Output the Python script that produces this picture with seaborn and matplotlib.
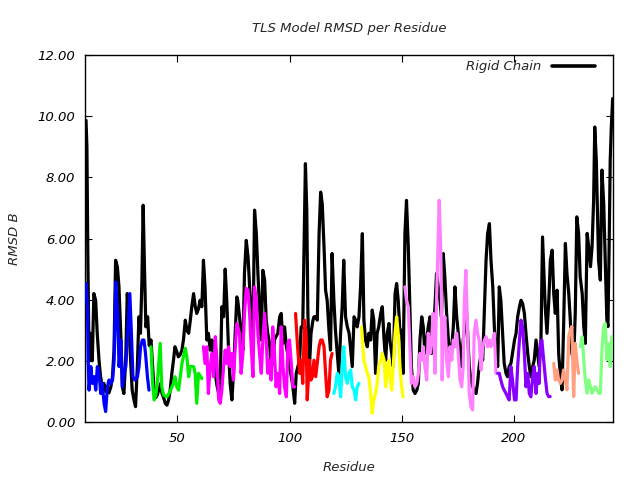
import numpy as np
import pandas as pd
import matplotlib
matplotlib.use("Agg")
import matplotlib.pyplot as plt
from matplotlib.ticker import FormatStrFormatter
import seaborn as sns

# ---------------- data ----------------
rigid_x = [9.2, 9.6, 10.0, 10.4, 10.8, 11.3, 12.0, 12.7, 13.5, 14.2, 15.0, 15.7, 16.4, 17.2, 17.9, 18.7, 19.4,
           20.3, 21.0, 21.7, 22.4, 23.2, 23.9, 24.7, 25.4, 26.1, 26.9, 27.6, 28.3, 29.1, 29.8, 30.6, 31.3, 32.1,
           32.8, 33.5, 34.1, 34.7, 35.3, 35.9, 36.7, 37.4, 38.2, 38.9, 39.6, 40.4, 41.1, 41.8, 42.5,
           43.1, 43.8, 44.6, 45.3, 46.0, 46.7, 47.5, 48.2, 48.9, 49.7, 50.4, 51.2, 52.0, 52.7, 53.5, 54.2, 55.0,
           55.7, 56.4, 57.2, 57.9, 58.6, 59.4, 60.1, 60.9, 61.6, 62.3, 63.1, 63.8, 64.6, 65.4, 66.1, 66.9, 67.6,
           68.4, 69.1, 69.8, 70.6, 71.3, 72.0, 72.8, 73.5, 74.3, 75.0, 75.7, 76.5,
           76.9, 77.7, 78.4, 79.2, 79.9, 80.7, 81.5, 82.2, 82.9, 83.7, 84.4, 85.2, 85.9, 86.6, 87.4, 88.1, 88.9,
           89.6, 90.3, 91.1, 91.8, 92.5, 93.3, 94.0, 94.8, 95.6, 96.3, 97.1, 97.8, 98.6, 99.3, 100.0, 100.8,
           101.5, 102.3, 103.0, 103.7, 104.5, 105.2, 105.9, 106.7, 107.1, 107.7, 108.2, 108.9, 109.6, 110.4,
           110.9, 111.7, 112.4, 113.2, 113.9, 114.6, 115.4, 116.1, 116.8, 117.6, 118.3, 119.0, 119.8, 120.5,
           121.3, 122.0, 122.8, 123.5, 124.2, 125.0, 125.8, 126.6, 127.3, 128.0, 128.8, 129.5, 130.2, 131.0,
           131.7, 132.5, 133.2, 133.9, 134.7, 135.4, 136.2, 136.9, 137.6, 138.4, 139.1, 139.8, 140.7, 141.4,
           142.2, 142.9, 143.6, 144.4,
           144.8, 145.6, 146.3, 147.1, 147.8, 148.5, 149.3, 150.0, 150.7, 151.5, 152.2, 153.0, 153.7, 154.4,
           155.2, 156.0, 156.8, 157.5, 158.2, 159.0, 159.7, 160.4, 161.2, 161.9, 162.7, 163.4, 164.1, 164.9,
           165.6, 166.4, 167.1, 167.8, 168.6, 169.3, 170.1, 170.9, 171.6, 172.4, 173.1, 173.8, 174.6, 175.3,
           176.1, 176.8, 177.5, 178.3,
           178.7, 179.5, 180.2, 181.0, 181.7, 182.4, 183.2, 183.9, 184.6, 185.5, 186.2, 187.0, 187.7, 188.4,
           189.2, 189.9, 190.7, 191.4, 192.1, 192.9, 193.6, 194.3, 195.1, 195.8, 196.6, 197.3, 198.0, 198.8,
           199.5, 200.4, 201.1, 201.8, 202.6, 203.3, 204.0, 204.8, 205.5, 206.3, 207.0, 207.7, 208.5, 209.2,
           210.0, 210.7, 211.4, 212.2, 212.9,
           213.4, 214.1, 214.9, 215.7, 216.4, 217.2, 217.9, 218.6, 219.4, 220.1, 220.9, 221.6, 222.3, 223.1,
           223.8, 224.6, 225.3, 226.0, 226.8, 227.5, 228.2, 229.0, 229.7, 230.6, 231.3, 232.0, 232.8, 233.5,
           234.3, 235.0, 235.7, 236.2, 236.9, 237.5, 237.9, 238.7, 239.4, 240.2, 240.9, 241.6, 242.1, 242.7,
           243.1, 243.6, 244.2]
rigid_y = [9.87, 9.0, 5.5, 3.0, 2.0, 2.9, 2.0, 4.2, 3.98, 2.9, 2.02, 1.48, 1.15, 1.26, 1.0, 1.04, 0.95,
           1.15, 1.48, 2.35, 5.29, 5.07, 4.42, 2.9, 1.15, 0.93, 2.02, 4.2, 3.44, 2.02, 1.04, 0.72, 0.5, 1.81,
           3.44, 2.9, 4.5, 7.09, 5.0, 3.11, 3.44, 2.5, 2.68, 1.81, 1.0, 0.8, 0.9, 1.1, 1.26,
           0.93, 0.8, 0.6, 0.55, 0.7, 1.0, 1.59, 2.0, 2.46, 2.3, 2.13, 2.2, 2.35, 2.7, 3.33, 3.0, 2.9,
           3.3, 3.77, 4.2, 3.8, 3.55, 3.7, 3.98, 3.77, 5.29, 4.42, 2.68, 2.9, 2.35, 2.68, 2.1, 1.59, 1.2,
           0.93, 1.26, 3.77, 3.44, 5.0, 3.98, 2.35, 1.26, 0.72, 1.59, 2.8, 4.09,
           3.98, 3.44, 2.9, 2.35, 4.86, 5.94, 5.4, 4.42, 3.55, 2.68, 6.93, 6.16, 4.86, 3.77, 2.68, 4.96, 4.64,
           3.33, 2.9, 2.57, 1.81, 1.91, 2.68, 2.8, 2.9, 3.44, 3.55, 2.57, 3.11, 2.46, 2.2, 1.81, 1.48,
           1.15, 0.61, 1.59, 1.8, 2.02, 3.11, 3.11, 6.6, 8.45, 6.93, 3.55, 1.81, 2.9, 3.3,
           3.44, 3.44, 3.33, 6.16, 7.52, 7.14, 5.73, 4.31, 3.98, 3.0, 2.35, 5.51, 3.98, 3.0,
           2.24, 1.59, 2.9, 3.77, 5.29, 3.44, 3.11, 2.9, 2.35, 1.81, 3.44, 3.33, 3.11, 3.44,
           4.42, 6.16, 3.33, 2.68, 2.46, 2.9, 2.68, 3.66, 3.33, 1.59, 2.9, 3.11, 3.55, 3.77,
           2.68, 2.02, 2.9, 3.22,
           2.68, 2.24, 1.81, 4.2, 4.53, 3.98, 2.9, 3.0, 1.59, 6.16, 7.25, 5.73, 3.77, 1.81,
           1.04, 0.93, 1.04, 1.26, 2.68, 3.44, 3.11, 2.24, 2.68, 3.11, 3.44, 2.24, 2.9, 3.77,
           4.86, 4.42, 3.98, 3.44, 5.51, 4.75, 3.55, 2.68, 2.02, 2.46, 3.11, 4.42, 3.44, 2.9,
           2.35, 1.81, 2.68, 3.11,
           3.98, 2.9, 1.81, 1.37, 1.15, 1.04, 0.93, 1.26, 1.81, 2.24, 2.02, 3.77, 5.29, 6.16,
           6.49, 5.29, 4.42, 3.11, 2.24, 1.81, 4.42, 3.98, 2.9, 1.91, 1.59, 1.48, 1.81, 1.91,
           2.24, 2.68, 2.9, 3.44, 3.77, 3.98, 3.88, 3.55, 2.9, 2.24, 1.81, 1.48, 1.81, 2.02,
           2.68, 2.24, 1.81, 2.68, 6.05,
           5.08, 3.77, 2.9, 3.99, 5.29, 5.62, 4.2, 3.55, 4.31, 2.24, 1.48, 1.05, 3.12, 5.84,
           4.86, 4.2, 3.33, 2.24, 2.03, 3.55, 6.71, 6.17, 4.75, 4.2, 3.12, 2.57, 6.17, 5.73,
           5.08, 5.73, 7.25, 9.65, 8.56, 6.6, 5.29, 4.64, 8.24, 7.15, 5.29, 3.33, 3.12, 6.17,
           8.56, 9.65, 10.58]

blue_x = [9.0, 9.2, 9.85, 10.15, 10.55, 11.35, 12.05, 12.85, 13.55, 14.25, 15.05, 15.75, 16.45, 17.25, 17.95,
          18.75, 19.45, 20.25, 21.05, 21.75, 22.45, 23.25, 23.95, 24.75, 25.45, 26.15, 26.95, 27.65, 28.75,
          29.45, 30.15, 30.95, 32.15, 32.85, 33.55, 34.35, 35.05, 35.75, 36.6, 37.3]
blue_y = [4.0, 4.53, 3.77, 2.02, 1.04, 1.81, 1.26, 1.48, 1.04, 1.81, 1.59, 0.93, 1.26, 0.61, 0.34,
          1.15, 1.37, 1.26, 1.37, 2.02, 4.58, 3.55, 1.81, 2.68, 1.15, 1.59, 1.81, 2.68, 4.2,
          2.9, 1.48, 1.37, 1.48, 1.81, 2.46, 2.68, 2.68, 2.24, 1.48, 1.04]

green_x = [38.2, 38.9, 39.6, 40.4, 41.1, 42.3, 43.0, 43.8, 45.3, 46.7, 48.2, 48.9, 49.7, 50.5, 52.0, 53.5,
           54.2, 55.0, 55.7, 57.2, 57.9, 58.6, 59.4, 60.9]
green_y = [2.46, 1.26, 0.72, 0.9, 1.37, 2.57, 1.15, 0.88, 0.82, 0.99, 1.26, 1.48, 1.15, 1.04, 1.91, 2.41,
           2.13, 1.48, 1.81, 1.81, 1.59, 0.61, 1.59, 1.42]

magenta_x = [61.6, 62.3, 63.1, 63.8, 64.6, 65.4, 66.1, 66.9, 67.6, 68.4, 69.1, 69.8, 70.6, 71.3, 72.0, 72.8,
             73.5, 74.3, 75.0, 75.7, 76.5, 77.7, 78.4, 79.2, 79.9, 80.7, 81.5, 82.2, 82.9, 83.7, 84.4,
             85.2, 85.9, 86.6, 87.4, 88.1, 88.9, 89.6, 90.3, 91.1, 91.8, 92.5, 93.3, 94.0, 94.8, 95.6, 96.3,
             97.1, 97.8, 98.6, 99.3, 100.0, 100.8, 101.5, 102.3]
magenta_y = [2.46, 1.91, 2.46, 0.93, 1.81, 2.24, 1.48, 2.79, 2.02, 0.72, 0.61, 1.04, 1.81, 2.35, 1.91, 2.46,
             1.81, 2.24, 1.37, 2.35, 3.22, 2.9, 1.59, 2.24, 3.55, 4.37, 4.31, 3.55, 2.46, 1.48, 4.42,
             3.98, 2.9, 2.24, 1.59, 2.68, 3.55, 2.68, 1.59, 2.02, 1.37, 3.11, 2.24, 1.15, 1.59, 0.93, 3.11,
             1.81, 1.15, 0.82, 2.57, 2.68, 1.91, 1.15, 1.15]

red_x = [102.7, 103.7, 104.5, 105.2, 105.9, 106.7, 107.4, 107.9, 108.9, 109.6, 110.2, 110.9, 111.7, 113.2,
         113.9, 114.6, 115.4, 116.1, 116.8, 117.6, 118.3, 119.0]
red_y = [3.55, 2.35, 1.59, 2.02, 1.26, 3.33, 2.9, 0.72, 2.02, 1.37, 1.48, 2.02, 1.48, 2.46,
         2.68, 2.68, 2.46, 1.59, 0.82, 1.04, 2.02, 2.24]

cyan_x = [119.8, 120.5, 121.3, 122.0, 122.8, 123.5, 124.2, 125.0, 125.8, 126.6, 127.3, 128.0, 128.8, 129.5,
          130.2, 131.0]
cyan_y = [0.93, 1.15, 1.59, 1.48, 0.82, 1.81, 2.46, 1.48, 1.26, 1.59, 1.7, 1.15, 1.04, 0.72, 1.15, 1.26]

yellow_x = [132.1, 132.7, 133.2, 133.9, 134.7, 135.4, 136.2, 136.9, 137.6, 138.4, 139.1, 139.8, 140.7, 141.4,
            142.2, 142.9, 143.6, 144.4, 144.8, 145.6, 146.3, 147.1, 147.8, 148.5, 149.3, 150.0, 150.7]
yellow_y = [3.11, 2.46, 2.02, 1.81, 1.59, 1.48, 0.93, 0.28, 0.72, 0.93, 1.26, 1.81, 2.02, 2.24,
            2.02, 1.15, 1.81, 2.02, 1.48, 1.04, 1.81, 2.9, 3.44, 2.9, 1.81, 1.15, 0.82]

pink_x = [151.5, 152.2, 153.0, 153.7, 154.4, 155.2, 156.0, 156.8, 157.5, 158.2, 159.0, 159.7, 160.4, 161.2,
          161.9, 162.7, 163.4, 164.1, 164.9, 165.6, 166.4, 166.8, 167.5, 167.8, 168.1, 168.6, 169.3, 170.1,
          170.9, 171.6, 172.4, 173.1, 173.8, 174.6, 175.3, 176.1, 176.8, 177.5, 178.0, 178.7, 179.5, 180.2,
          181.0, 181.7, 182.4, 183.2, 183.9, 184.6, 185.5, 186.2, 187.0, 187.7, 188.4, 189.2, 189.9, 190.7,
          191.4, 192.1]
pink_y = [4.42, 3.98, 3.77, 2.46, 1.26, 1.48, 1.15, 1.26, 1.59, 2.24, 2.02, 2.46, 1.81, 1.37,
          2.9, 2.24, 2.68, 3.55, 1.59, 3.98, 6.16, 7.25, 5.62, 3.98, 1.37, 2.9, 3.44, 2.02,
          1.48, 2.46, 2.02, 2.68, 2.46, 2.9, 2.24, 1.37, 1.15, 1.81, 3.98, 4.96, 2.9, 0.93,
          0.5, 0.39, 2.9, 3.33, 2.9, 2.68, 1.7, 2.46, 2.68, 2.79, 2.46, 2.68, 2.46, 2.68,
          2.9, 1.59]

purple_x = [192.9, 193.6, 194.3, 195.1, 195.8, 196.6, 197.3, 198.0, 198.8, 199.5, 200.4, 201.1, 201.8, 202.6,
            203.3, 204.0, 204.8, 205.5, 206.3, 207.0, 207.7, 208.5, 209.2, 210.0, 210.7, 211.4, 211.9,
            212.6, 213.4, 214.1, 214.9, 215.6, 216.3]
purple_y = [1.59, 1.59, 1.37, 1.15, 1.04, 0.93, 0.82, 0.72, 1.81, 1.37, 0.72, 0.72, 1.81, 2.68,
            3.33, 3.11, 2.24, 1.15, 1.59, 0.93, 0.82, 1.48, 1.81, 0.93, 1.59, 1.26, 2.57,
            2.68, 2.03, 1.48, 0.94, 0.83, 0.83]

salmon_x = [217.9, 218.6, 219.4, 220.1, 220.9, 221.6, 222.3, 223.1, 223.8, 224.6, 225.3, 226.0, 226.8, 227.5,
            228.2, 229.0]
salmon_y = [1.92, 1.37, 1.7, 1.37, 1.26, 1.37, 1.7, 1.37, 1.05, 2.79, 3.01, 3.12, 0.83, 2.57, 2.03, 1.59]

lgreen_x = [229.75, 230.6, 231.3, 232.0, 232.8, 233.5, 234.3, 235.0, 235.7, 236.4, 237.2, 237.9, 238.7, 239.4,
            240.2, 240.9, 241.6, 242.3, 243.1, 243.8]
lgreen_y = [2.46, 2.79, 2.03, 1.37, 0.94, 1.37, 1.15, 0.94, 1.05, 1.15, 1.05, 0.94, 0.94, 2.35,
            3.12, 3.22, 2.03, 2.57, 1.81, 2.79]

segments = [
    ("blue", blue_x, blue_y, "#0000ff"),
    ("green", green_x, green_y, "#00ee00"),
    ("magenta", magenta_x, magenta_y, "#ff00ff"),
    ("red", red_x, red_y, "#ff0000"),
    ("cyan", cyan_x, cyan_y, "#00ffff"),
    ("yellow", yellow_x, yellow_y, "#ffff00"),
    ("pink", pink_x, pink_y, "#ff80ff"),
    ("purple", purple_x, purple_y, "#8a00ff"),
    ("salmon", salmon_x, salmon_y, "#ff9f80"),
    ("lgreen", lgreen_x, lgreen_y, "#80ff80"),
]

x_ticks = [50, 100, 150, 200]
y_ticks = [0, 2, 4, 6, 8, 10, 12]

# ---------------- plot ----------------
sns.set_theme(style="white")
plt.rcParams["font.family"] = ["DejaVu Sans"]
plt.rcParams["font.style"] = "italic"

fig = plt.figure(figsize=(6.4, 4.8), dpi=100)
ax = fig.add_axes([0.133, 0.121, 0.825, 0.764])

rigid_df = pd.DataFrame({"Residue": rigid_x, "RMSD": rigid_y})
sns.lineplot(data=rigid_df, x="Residue", y="RMSD", ax=ax, color="black", linewidth=2.3,
             sort=False, estimator=None, label="Rigid Chain", zorder=2)

rows = []
for name, xs, ys, col in segments:
    rows.append(pd.DataFrame({"Residue": xs, "RMSD": ys, "group": name}))
seg_df = pd.concat(rows, ignore_index=True)
palette = {name: col for name, _, _, col in segments}
sns.lineplot(data=seg_df, x="Residue", y="RMSD", hue="group", palette=palette, ax=ax,
             linewidth=2.3, sort=False, estimator=None, legend=False, zorder=3)

ax.set_xlim(8.8, 244.4)
ax.set_ylim(0, 12)
ax.set_xticks(x_ticks)
ax.set_yticks(y_ticks)
ax.yaxis.set_major_formatter(FormatStrFormatter("%.2f"))
ax.tick_params(direction="in", length=5, width=0.8, top=True, right=True, bottom=True, left=True,
               labelsize=9.5, colors="black", pad=7)
for lab in ax.get_xticklabels() + ax.get_yticklabels():
    lab.set_fontstyle("italic")
for sp in ax.spines.values():
    sp.set_color("black")
    sp.set_linewidth(1.0)

ax.set_xlabel("Residue", fontsize=9.5, fontstyle="italic", labelpad=12)
ax.set_ylabel("RMSD B", fontsize=9.5, fontstyle="italic", labelpad=12)
ax.set_title("TLS Model RMSD per Residue", fontsize=9.5, fontstyle="italic", pad=17)

leg = ax.legend(loc="upper right", bbox_to_anchor=(0.976, 1.0), borderaxespad=0.0,
                frameon=False, markerfirst=False, fontsize=9.5,
                handlelength=3.3, handletextpad=0.8)
for t in leg.get_texts():
    t.set_fontstyle("italic")
for h in leg.legend_handles:
    h.set_linewidth(2.6)

fig.savefig("out.png", dpi=100)
